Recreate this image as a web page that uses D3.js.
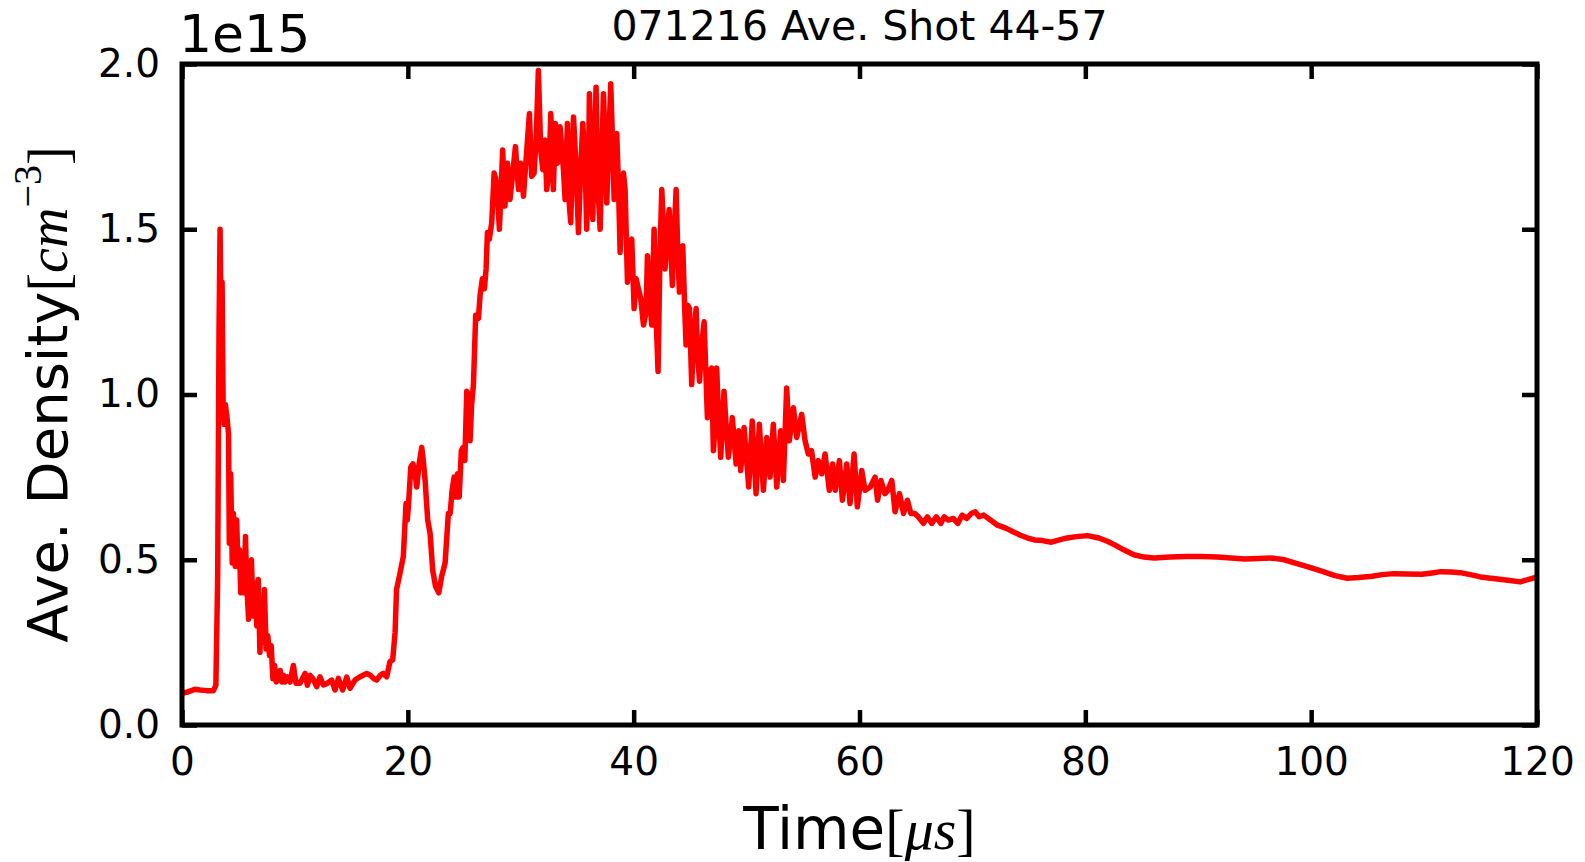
<!DOCTYPE html>
<html>
<head>
<meta charset="utf-8">
<script src="https://cdn.jsdelivr.net/npm/d3@7"></script>
<style>
  body { margin: 0; background: #fff; }
  text { font-family: "DejaVu Sans", sans-serif; fill: #000; }
</style>
</head>
<body>
<svg id="chart"></svg>
<script>
// time in microseconds, density in units of 1e15 cm^-3
const time = [
  0.0, 0.5, 1.15, 1.6, 2.2, 2.78, 3.0, 3.16, 3.28, 3.37, 3.47, 3.55, 3.64, 3.74, 3.84, 4.02, 4.12, 4.19, 4.31, 4.45,
  4.55, 4.72, 4.84, 4.96, 5.1, 5.2, 5.35, 5.5, 5.62, 5.74, 5.9, 6.05, 6.15, 6.3, 6.45, 6.62, 6.75, 6.9, 7.0, 7.12,
  7.3, 7.45, 7.6, 7.75, 7.9, 8.05, 8.2, 8.35, 8.55, 8.7, 8.85, 9.0, 9.12, 9.33, 9.57, 9.86, 10.1, 10.45, 10.9, 11.1,
  11.35, 11.6, 11.93, 12.22, 12.52, 12.81, 13.26, 13.55, 13.85, 14.23, 14.59, 14.88, 15.32, 15.77, 16.36, 16.65, 17.0, 17.24, 17.55, 17.83,
  18.13, 18.42, 18.66, 18.87, 19.0, 19.31, 19.6, 19.84, 19.95, 20.05, 20.26, 20.45, 20.6, 20.79, 21.0, 21.23, 21.4, 21.53, 21.76, 21.97,
  22.2, 22.45, 22.6, 22.74, 23.0, 23.3, 23.59, 23.75, 23.92, 24.1, 24.25, 24.4, 24.55, 24.74, 24.9, 25.05, 25.22, 25.38, 25.51, 25.65,
  25.81, 26.01, 26.25, 26.4, 26.6, 26.78, 26.93, 27.05, 27.22, 27.43, 27.64, 27.87, 28.11, 28.4, 28.6, 28.82, 29.05, 29.29, 29.53, 29.8,
  30.0, 30.24, 30.47, 30.77, 30.97, 31.18, 31.36, 31.56, 31.77, 31.95, 32.15, 32.3, 32.51, 32.66, 32.89, 33.07, 33.25, 33.48, 33.78, 33.93,
  34.13, 34.31, 34.43, 34.58, 34.67, 34.9, 35.11, 35.26, 35.49, 35.7, 35.84, 36.02, 36.08, 36.2, 36.38, 36.5, 36.67, 36.82, 37.03, 37.2,
  37.32, 37.5, 37.62, 37.77, 37.97, 38.15, 38.27, 38.42, 38.5, 38.65, 38.8, 38.94, 39.1, 39.24, 39.45, 39.62, 39.83, 40.04, 40.22, 40.42,
  40.63, 40.87, 41.1, 41.22, 41.4, 41.6, 41.81, 41.98, 42.16, 42.34, 42.49, 42.64, 42.78, 42.99, 43.14, 43.29, 43.43, 43.58, 43.76, 43.9,
  44.05, 44.2, 44.35, 44.52, 44.64, 44.79, 44.94, 45.14, 45.3, 45.53, 45.65, 45.83, 46.03, 46.24, 46.42, 46.53, 46.68, 46.9, 47.06, 47.2,
  47.35, 47.5, 47.71, 48.0, 48.2, 48.39, 48.74, 49.07, 49.3, 49.48, 49.78, 50.19, 50.5, 50.84, 51.13, 51.49, 51.78, 52.08, 52.37, 52.67,
  53.02, 53.26, 53.55, 53.79, 54.15, 54.44, 54.88, 55.18, 55.47, 55.75, 56.07, 56.36, 56.65, 56.95, 57.33, 57.62, 57.85, 58.22, 58.49, 58.87,
  59.16, 59.52, 59.81, 60.2, 60.49, 60.95, 61.38, 61.6, 61.9, 62.25, 62.5, 62.86, 63.15, 63.54, 63.9, 64.24, 64.55, 64.9, 65.2, 65.66,
  66.0, 66.4, 66.8, 67.2, 67.5, 67.87, 68.3, 68.7, 69.1, 69.5, 69.9, 70.26, 70.6, 71.0, 71.6, 72.2, 72.6, 73.0, 73.6, 74.2,
  74.95, 75.5, 76.2, 77.0, 77.7, 78.4, 79.2, 80.2, 81.2, 82.0, 82.6, 83.4, 84.3, 85.2, 86.1, 87.5, 88.9, 90.3, 91.7, 92.9,
  94.1, 95.3, 96.6, 97.6, 98.6, 99.8, 101.0, 102.1, 103.2, 104.2, 105.4, 106.3, 107.3, 108.5, 109.8, 110.7, 111.5, 112.4, 113.2, 114.1,
  115.0, 115.9, 116.7, 117.6, 118.5, 119.2, 120.0
];
const density = [
  0.096, 0.100, 0.108, 0.106, 0.104, 0.104, 0.12, 0.45, 1.20, 1.50, 1.19, 1.34, 0.98, 0.91, 0.97, 0.92, 0.88, 0.55, 0.76, 0.49,
  0.64, 0.48, 0.62, 0.48, 0.53, 0.40, 0.52, 0.40, 0.57, 0.42, 0.32, 0.45, 0.50, 0.33, 0.43, 0.30, 0.44, 0.22, 0.31, 0.25,
  0.41, 0.23, 0.27, 0.21, 0.24, 0.14, 0.18, 0.13, 0.14, 0.165, 0.13, 0.15, 0.13, 0.146, 0.13, 0.18, 0.126, 0.126, 0.156, 0.12,
  0.15, 0.14, 0.116, 0.146, 0.121, 0.125, 0.136, 0.106, 0.141, 0.106, 0.145, 0.111, 0.136, 0.146, 0.156, 0.151, 0.14, 0.136, 0.15, 0.156,
  0.146, 0.192, 0.197, 0.28, 0.41, 0.46, 0.51, 0.67, 0.62, 0.66, 0.78, 0.79, 0.77, 0.72, 0.79, 0.84, 0.79, 0.74, 0.62, 0.58,
  0.47, 0.42, 0.41, 0.40, 0.45, 0.49, 0.64, 0.64, 0.71, 0.75, 0.69, 0.76, 0.69, 0.83, 0.84, 0.80, 1.01, 1.00, 0.86, 0.97,
  1.03, 1.24, 1.23, 1.30, 1.35, 1.32, 1.38, 1.49, 1.47, 1.52, 1.67, 1.64, 1.50, 1.74, 1.57, 1.70, 1.59, 1.67, 1.75, 1.62,
  1.70, 1.60, 1.71, 1.85, 1.66, 1.67, 1.77, 1.98, 1.74, 1.68, 1.77, 1.62, 1.68, 1.85, 1.62, 1.82, 1.70, 1.81, 1.68, 1.59,
  1.82, 1.57, 1.52, 1.71, 1.84, 1.69, 1.49, 1.64, 1.82, 1.70, 1.50, 1.74, 1.91, 1.69, 1.53, 1.74, 1.93, 1.64, 1.50, 1.74,
  1.91, 1.74, 1.58, 1.74, 1.94, 1.74, 1.59, 1.71, 1.79, 1.64, 1.43, 1.59, 1.67, 1.62, 1.34, 1.46, 1.47, 1.26, 1.35, 1.32,
  1.29, 1.21, 1.25, 1.42, 1.30, 1.21, 1.50, 1.24, 1.07, 1.44, 1.62, 1.51, 1.38, 1.49, 1.56, 1.44, 1.33, 1.48, 1.62, 1.44,
  1.31, 1.44, 1.45, 1.26, 1.15, 1.27, 1.26, 1.03, 1.16, 1.26, 1.13, 1.04, 1.15, 1.22, 1.04, 0.93, 1.07, 1.08, 0.83, 0.90,
  1.08, 0.95, 0.81, 1.01, 0.90, 0.81, 0.93, 0.79, 0.89, 0.77, 0.90, 0.72, 0.92, 0.70, 0.91, 0.71, 0.87, 0.75, 0.91, 0.72,
  0.89, 0.74, 1.02, 0.86, 0.96, 0.87, 0.94, 0.86, 0.82, 0.83, 0.75, 0.80, 0.76, 0.82, 0.71, 0.79, 0.71, 0.80, 0.68, 0.79,
  0.67, 0.82, 0.66, 0.77, 0.71, 0.72, 0.75, 0.68, 0.74, 0.70, 0.71, 0.74, 0.645, 0.70, 0.64, 0.68, 0.64, 0.64, 0.63, 0.61,
  0.63, 0.61, 0.63, 0.61, 0.63, 0.62, 0.625, 0.61, 0.635, 0.625, 0.64, 0.645, 0.63, 0.635, 0.62, 0.605, 0.60, 0.595, 0.585, 0.575,
  0.565, 0.56, 0.558, 0.553, 0.56, 0.566, 0.57, 0.573, 0.566, 0.555, 0.545, 0.53, 0.515, 0.508, 0.505, 0.508, 0.51, 0.51, 0.508, 0.505,
  0.502, 0.504, 0.505, 0.50, 0.49, 0.478, 0.465, 0.452, 0.444, 0.446, 0.45, 0.455, 0.458, 0.457, 0.456, 0.46, 0.464, 0.463, 0.461, 0.455,
  0.448, 0.444, 0.441, 0.437, 0.433, 0.44, 0.448
];
const xTicks = [0, 20, 40, 60, 80, 100, 120];
const yTicks = [0, 0.5, 1.0, 1.5, 2.0];

const width = 1585, height = 862;
const plot = { left: 182, right: 1537, top: 64, bottom: 725 };

const svg = d3.select("#chart")
  .attr("width", width)
  .attr("height", height);

const x = d3.scaleLinear().domain([0, 120]).range([plot.left, plot.right]);
const y = d3.scaleLinear().domain([0, 2]).range([plot.bottom, plot.top]);

const data = time.map((t, i) => ({ t: t, v: density[i] }));

const line = d3.line()
  .x(d => x(d.t))
  .y(d => y(d.v));

svg.append("path")
  .datum(data)
  .attr("fill", "none")
  .attr("stroke", "#ff0000")
  .attr("stroke-width", 5.5)
  .attr("stroke-linejoin", "round")
  .attr("d", line);

// axes, ticks pointing inward on all four sides
function styleAxis(g) {
  g.select(".domain").remove();
  g.selectAll(".tick line").attr("stroke", "#000").attr("stroke-width", 4.5);
  g.selectAll(".tick text")
    .style("font-family", "'DejaVu Sans', sans-serif")
    .style("font-size", "39px")
    .attr("fill", "#000");
}

svg.append("g")
  .attr("transform", `translate(0,${plot.bottom})`)
  .call(d3.axisBottom(x).tickValues(xTicks).tickSize(-15).tickPadding(22).tickFormat(d3.format("d")))
  .call(styleAxis);

svg.append("g")
  .attr("transform", `translate(0,${plot.top})`)
  .call(d3.axisTop(x).tickValues(xTicks).tickSize(-15).tickFormat(""))
  .call(styleAxis);

svg.append("g")
  .attr("transform", `translate(${plot.left},0)`)
  .call(d3.axisLeft(y).tickValues(yTicks).tickSize(-15).tickPadding(22).tickFormat(d => d.toFixed(1)))
  .call(styleAxis);

svg.append("g")
  .attr("transform", `translate(${plot.right},0)`)
  .call(d3.axisRight(y).tickValues(yTicks).tickSize(-15).tickFormat(""))
  .call(styleAxis);

svg.append("rect")
  .attr("x", plot.left)
  .attr("y", plot.top)
  .attr("width", plot.right - plot.left)
  .attr("height", plot.bottom - plot.top)
  .attr("fill", "none")
  .attr("stroke", "#000")
  .attr("stroke-width", 5);

// offset text and title
svg.append("text")
  .attr("x", 179)
  .attr("y", 52)
  .style("font-size", "52px")
  .text("1e15");

svg.append("text")
  .attr("x", (plot.left + plot.right) / 2)
  .attr("y", 40)
  .attr("text-anchor", "middle")
  .style("font-size", "41px")
  .text("071216 Ave. Shot 44-57");

// x label: Time[μs]
const xl = svg.append("text")
  .attr("x", (plot.left + plot.right) / 2)
  .attr("y", 849)
  .attr("text-anchor", "middle")
  .style("font-size", "58px");
xl.append("tspan").text("Time");
xl.append("tspan").style("font-family", "'Liberation Serif', serif").text("[");
xl.append("tspan").style("font-family", "'Liberation Serif', serif").style("font-style", "italic").text("μs");
xl.append("tspan").style("font-family", "'Liberation Serif', serif").text("]");

// y label: Ave. Density[cm^-3]
const yl = svg.append("text")
  .attr("transform", `translate(67,${(plot.top + plot.bottom) / 2}) rotate(-90)`)
  .attr("text-anchor", "middle")
  .style("font-size", "56px");
yl.append("tspan").text("Ave. Density");
yl.append("tspan").style("font-family", "'Liberation Serif', serif").text("[");
yl.append("tspan").style("font-family", "'Liberation Serif', serif").style("font-style", "italic").text("cm");
yl.append("tspan").style("font-family", "'Liberation Serif', serif").style("font-size", "40px").attr("dy", -26).text("−3");
yl.append("tspan").style("font-family", "'Liberation Serif', serif").attr("dy", 26).text("]");
</script>
</body>
</html>
